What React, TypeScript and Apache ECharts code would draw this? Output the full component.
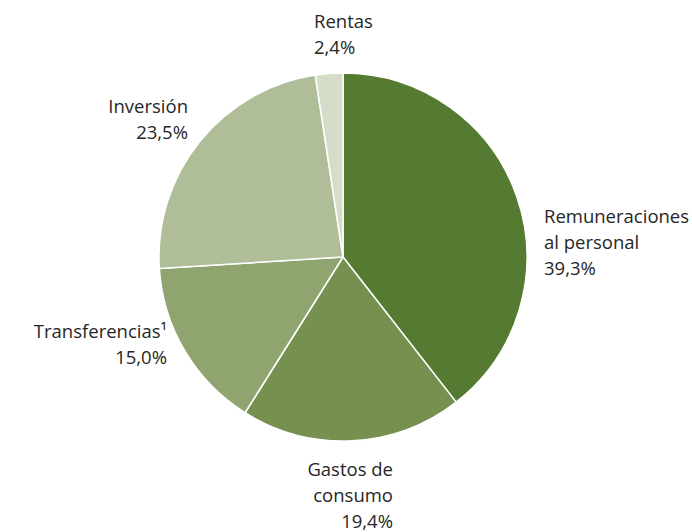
import React, { useEffect, useRef } from "react";
import * as echarts from "echarts";

const categories = ["Remuneraciones\nal personal", "Gastos de\nconsumo", "Transferencias¹", "Inversión", "Rentas"];
const values = [39.3, 19.4, 15.0, 23.5, 2.4];
const colors = ["#557B32", "#76914F", "#8FA46F", "#AFBD98", "#D5DDC8"];

const labelPos: { x: number; y: number; align: "left" | "right" }[] = [
  { x: 544, y: 202, align: "left" },
  { x: 393, y: 455, align: "right" },
  { x: 167, y: 317, align: "right" },
  { x: 188, y: 92, align: "right" },
  { x: 314, y: 7, align: "left" },
];

export default function App() {
  const ref = useRef<HTMLDivElement>(null);
  useEffect(() => {
    const chart = echarts.init(ref.current!, undefined, { renderer: "svg" });
    chart.setOption({
      animation: false,
      backgroundColor: "#ffffff",
      series: [
        {
          type: "pie",
          center: [343, 257],
          radius: 184,
          startAngle: 90,
          clockwise: true,
          avoidLabelOverlap: false,
          itemStyle: { borderColor: "#ffffff", borderWidth: 1.5 },
          label: {
            show: true,
            position: "outside",
            fontFamily: "Open Sans",
            fontSize: 18.5,
            lineHeight: 26,
            color: "#262626",
            formatter: (p: any) => `${p.name}\n${p.value.toFixed(1).replace(".", ",")}%`,
          },
          labelLine: { show: false },
          labelLayout: (p: any) => {
            const lp = labelPos[p.dataIndex];
            return { x: lp.x, y: lp.y, align: lp.align, verticalAlign: "top" };
          },
          data: categories.map((c, i) => ({ name: c, value: values[i], itemStyle: { color: colors[i] }, label: { align: labelPos[i].align } })),
        },
      ],
    });
    return () => chart.dispose();
  }, []);
  return <div ref={ref} style={{ position: "fixed", left: 0, top: 0, width: 692, height: 532 }} />;
}
